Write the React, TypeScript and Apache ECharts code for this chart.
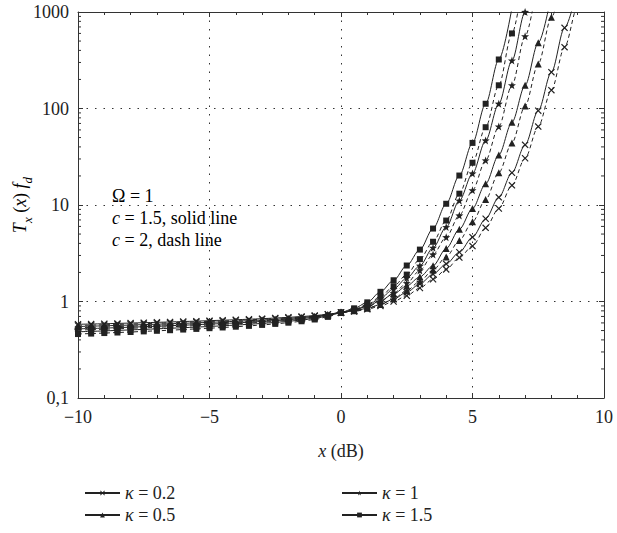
import React, { useEffect, useRef } from "react";
import * as echarts from "echarts";

const FONT = '"Liberation Serif", "DejaVu Serif", serif';
const INK = "#222";

// x positions (dB) of the computed points
const xs = [
  -10, -9.5, -9, -8.5, -8, -7.5, -7, -6.5, -6, -5.5, -5, -4.5, -4, -3.5, -3, -2.5, -2, -1.5, -1, -0.5,
  0, 0.5, 1, 1.5, 2, 2.5, 3, 3.5, 4, 4.5, 5, 5.5, 6, 6.5, 7, 7.5, 8, 8.5, 9, 9.5,
];

// c = 1.5 (solid)
const k02Solid = [
  0.58, 0.584, 0.588, 0.593, 0.598, 0.603, 0.608, 0.614, 0.62, 0.626, 0.633, 0.64, 0.647, 0.655, 0.664, 0.674, 0.685, 0.698, 0.714, 0.738,
  0.77, 0.8, 0.85, 0.93, 1.06, 1.25, 1.52, 1.92, 2.45, 3.24, 4.64, 7.2, 12, 21.6, 42, 95, 238, 686, 1800,
];
const k05Solid = [
  0.55, 0.555, 0.56, 0.565, 0.57, 0.576, 0.582, 0.588, 0.594, 0.601, 0.608, 0.616, 0.624, 0.633, 0.643, 0.654, 0.667, 0.682, 0.701, 0.729,
  0.77, 0.815, 0.89, 1.02, 1.2, 1.45, 1.8, 2.35, 3.54, 5.6, 9.2, 16.6, 33, 72, 174, 480, 1500,
];
const k1Solid = [
  0.52, 0.525, 0.53, 0.536, 0.542, 0.548, 0.554, 0.561, 0.568, 0.575, 0.583, 0.591, 0.6, 0.61, 0.621, 0.633, 0.648, 0.665, 0.687, 0.719,
  0.77, 0.82, 0.91, 1.08, 1.35, 1.75, 2.35, 3.6, 5.9, 11.1, 21.2, 46.6, 112, 314, 1000, 3500,
];
const k15Solid = [
  0.485, 0.49, 0.496, 0.502, 0.508, 0.514, 0.521, 0.528, 0.535, 0.543, 0.551, 0.56, 0.57, 0.581, 0.593, 0.607, 0.623, 0.643, 0.668, 0.706,
  0.77, 0.85, 0.98, 1.26, 1.66, 2.36, 3.45, 5.7, 10.3, 20.2, 44, 112, 322, 1100,
];
// c = 2 (dashed)
const k02Dash = [
  0.565, 0.569, 0.574, 0.579, 0.584, 0.589, 0.595, 0.601, 0.607, 0.614, 0.621, 0.628, 0.636, 0.645, 0.655, 0.665, 0.677, 0.691, 0.708, 0.733,
  0.77, 0.79, 0.83, 0.9, 1.0, 1.15, 1.38, 1.7, 2.15, 2.85, 3.75, 5.8, 9.2, 16, 30.5, 65, 155, 432, 1150, 3500,
];
const k05Dash = [
  0.535, 0.54, 0.545, 0.55, 0.556, 0.562, 0.568, 0.574, 0.581, 0.588, 0.596, 0.604, 0.613, 0.622, 0.632, 0.644, 0.658, 0.674, 0.694, 0.724,
  0.77, 0.8, 0.85, 0.93, 1.07, 1.3, 1.62, 2.12, 2.9, 4.29, 6.7, 11.4, 21.6, 44, 106, 290, 880, 3000,
];
const k1Dash = [
  0.505, 0.51, 0.516, 0.522, 0.528, 0.534, 0.54, 0.547, 0.554, 0.562, 0.57, 0.579, 0.588, 0.598, 0.609, 0.622, 0.638, 0.656, 0.68, 0.714,
  0.77, 0.81, 0.88, 1.0, 1.22, 1.55, 2.1, 3.07, 4.64, 7.8, 14.2, 29, 65, 174, 560, 2300,
];
const k15Dash = [
  0.46, 0.465, 0.471, 0.477, 0.483, 0.49, 0.497, 0.504, 0.512, 0.52, 0.529, 0.538, 0.548, 0.559, 0.572, 0.586, 0.603, 0.624, 0.651, 0.693,
  0.77, 0.83, 0.93, 1.12, 1.44, 1.9, 2.75, 4.16, 6.9, 13.1, 27.4, 64, 174, 600, 3000,
];

const yMinorTicks = [
  0.2, 0.3, 0.4, 0.5, 0.6, 0.7, 0.8, 0.9, 2, 3, 4, 5, 6, 7, 8, 9,
  20, 30, 40, 50, 60, 70, 80, 90, 200, 300, 400, 500, 600, 700, 800, 900,
];

const legendLeft = ["κ = 0.2", "κ = 0.5"];
const legendRight = ["κ = 1", "κ = 1.5"];

const CROSS = "path://M0,1.2L1.2,0L5,3.8L8.8,0L10,1.2L6.2,5L10,8.8L8.8,10L5,6.2L1.2,10L0,8.8L3.8,5Z";
const STAR =
  "path://M5,0L6.2,3.4L10,3.6L7,5.9L8.1,9.5L5,7.4L1.9,9.5L3,5.9L0,3.6L3.8,3.4Z";

function mk(name: string, vals: number[], symbol: string, size: number, dashed: boolean) {
  return {
    name,
    type: "line",
    data: vals.map((v, i) => [xs[i], v]),
    symbol,
    symbolSize: size,
    showSymbol: true,
    smooth: 0.3,
    smoothMonotone: "x",
    clip: true,
    lineStyle: { color: INK, width: 1, type: dashed ? [4, 3] : "solid" },
    itemStyle: { color: INK, borderWidth: 0 },
    emphasis: { disabled: true },
    z: 3,
  };
}

const FS = 18;
const baseText = { fontFamily: FONT, fontSize: FS, color: INK };
const rich = {
  i: { fontFamily: FONT, fontSize: FS, fontStyle: "italic", color: INK },
  n: { fontFamily: FONT, fontSize: FS, color: INK },
};

export default function App() {
  const ref = useRef<HTMLDivElement>(null);
  useEffect(() => {
    if (!ref.current) return;
    const chart = echarts.init(ref.current, undefined, { renderer: "svg" });
    const axisLine = { onZero: false, lineStyle: { color: "#333", width: 1 } };
    const dotted = { show: true, lineStyle: { color: "#333", width: 1, type: [1.5, 7] } };
    const legendCommon = {
      orient: "vertical",
      top: 479,
      itemGap: 4,
      itemWidth: 35,
      itemHeight: 6,
      textStyle: { ...baseText, rich },
      formatter: (name: string) => name.replace("κ", "{i|κ}"),
      selectedMode: false,
    };
    chart.setOption({
      animation: false,
      backgroundColor: "#fff",
      grid: { left: 78, right: 13, top: 12, bottom: 135 },
      xAxis: [
        {
          type: "value",
          min: -10,
          max: 10,
          interval: 5,
          position: "bottom",
          axisLine,
          axisTick: { inside: true, length: 5, lineStyle: { color: "#333" } },
          minorTick: { show: true, splitNumber: 5, length: 3, lineStyle: { color: "#333" } },
          axisLabel: {
            ...baseText,
            margin: 10,
            formatter: (v: number) => (v < 0 ? "\u2212" + Math.abs(v) : String(v)),
          },
          splitLine: dotted,
          name: "{i|x} (dB)",
          nameLocation: "middle",
          nameGap: 44,
          nameTextStyle: { ...baseText, rich },
        },
        {
          type: "value",
          min: -10,
          max: 10,
          interval: 5,
          position: "top",
          axisLine,
          axisTick: { inside: true, length: 5, lineStyle: { color: "#333" } },
          minorTick: { show: true, splitNumber: 5, length: 3, lineStyle: { color: "#333" } },
          axisLabel: { show: false },
          splitLine: { show: false },
        },
      ],
      yAxis: [
        {
          type: "log",
          logBase: 10,
          min: 0.1,
          max: 1000,
          position: "left",
          axisLine,
          axisTick: { inside: true, length: 5, lineStyle: { color: "#333" } },
          axisLabel: {
            ...baseText,
            margin: 9,
            formatter: (v: number) => (v < 0.5 ? "0,1" : String(Math.round(v))),
          },
          splitLine: dotted,
        },
        {
          type: "log",
          logBase: 10,
          min: 0.1,
          max: 1000,
          position: "right",
          axisLine,
          axisTick: { inside: true, length: 5, lineStyle: { color: "#333" } },
          axisLabel: { show: false },
          splitLine: { show: false },
        },
      ],
      legend: [
        { ...legendCommon, left: 79, data: legendLeft },
        { ...legendCommon, left: 336, data: legendRight },
      ],
      series: [
        mk("κ = 0.2", k02Solid, CROSS, 7, false),
        mk("κ = 0.5", k05Solid, "triangle", 7, false),
        mk("κ = 1", k1Solid, STAR, 8, false),
        mk("κ = 1.5", k15Solid, "rect", 6, false),
        mk("κ = 0.2 (c = 2)", k02Dash, CROSS, 7, true),
        mk("κ = 0.5 (c = 2)", k05Dash, "triangle", 7, true),
        mk("κ = 1 (c = 2)", k1Dash, STAR, 8, true),
        mk("κ = 1.5 (c = 2)", k15Dash, "rect", 6, true),
        {
          name: "minor ticks",
          type: "custom",
          silent: true,
          clip: false,
          z: 5,
          data: yMinorTicks.map((v) => [-10, v]),
          encode: { x: 0, y: 1 },
          renderItem: (params: any, api: any) => {
            const p = api.coord([-10, api.value(1)]);
            const cs = params.coordSys;
            const st = { stroke: "#333", lineWidth: 1 };
            return {
              type: "group",
              children: [
                { type: "line", shape: { x1: cs.x, y1: p[1], x2: cs.x + 3, y2: p[1] }, style: st },
                {
                  type: "line",
                  shape: { x1: cs.x + cs.width - 3, y1: p[1], x2: cs.x + cs.width, y2: p[1] },
                  style: st,
                },
              ],
            };
          },
        },
      ],
      graphic: [
        {
          type: "text",
          x: 20,
          y: 205,
          rotation: Math.PI / 2,
          style: {
            text: "{i|T}{s|x}{n| (}{i|x}{n|) }{i|f}{s|d}",
            align: "center",
            verticalAlign: "middle",
            rich: {
              i: { ...rich.i, lineHeight: 28, verticalAlign: "middle" },
              n: { ...rich.n, lineHeight: 28, verticalAlign: "middle" },
              s: { fontFamily: FONT, fontSize: 13, fontStyle: "italic", color: INK, lineHeight: 28, verticalAlign: "bottom" },
            },
          },
        },
        {
          type: "text",
          x: 112,
          y: 196,
          style: { text: "{n|Ω = 1}", verticalAlign: "middle", rich },
        },
        {
          type: "text",
          x: 112,
          y: 218,
          style: {
            text: "{i|c}{n| = 1.5, solid line}",
            verticalAlign: "middle",
            rich,
          },
        },
        {
          type: "text",
          x: 112,
          y: 240,
          style: {
            text: "{i|c}{n| = 2, dash line}",
            verticalAlign: "middle",
            rich,
          },
        },
      ],
    });
    return () => chart.dispose();
  }, []);
  return (
    <div
      ref={ref}
      style={{ position: "absolute", left: 0, top: 0, width: 617, height: 533, background: "#fff" }}
    />
  );
}
